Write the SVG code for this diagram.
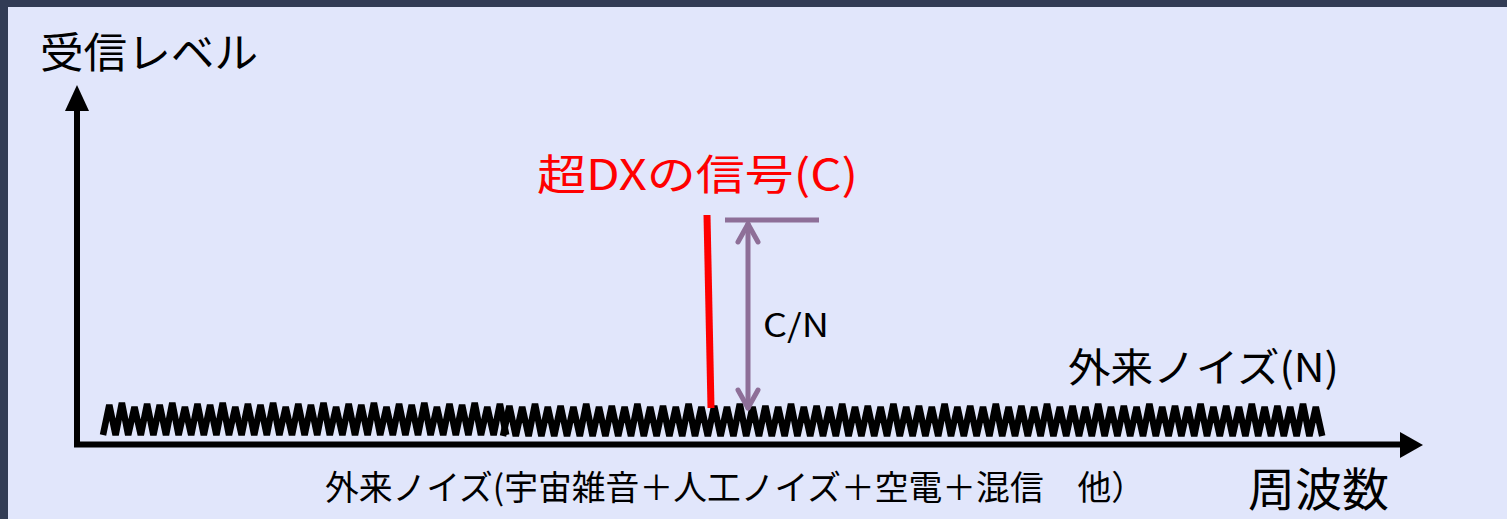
<svg xmlns="http://www.w3.org/2000/svg" width="1507" height="519" viewBox="0 0 1507 519">
<style>
.t{font-family:"Noto Sans CJK JP","Noto Sans",sans-serif;}
.axis{stroke:#000;stroke-width:6;fill:none;}
.noise{stroke:#000;stroke-width:6.5;fill:none;stroke-linejoin:miter;stroke-miterlimit:3;}
.pur{stroke:#8e6f98;stroke-width:5;fill:none;stroke-linecap:round;stroke-linejoin:round;}
</style>
<rect x="0" y="0" width="1507" height="519" fill="#323c55"/>
<rect x="8" y="7" width="1499" height="512" fill="#e1e6fb"/>
<g id="noise">
<path class="noise" d="M103,435 l6.3,-30 6.3,30 6.3,-32 6.3,32 6.3,-28 6.3,28 6.3,-31 6.3,31 6.3,-30 6.3,30 6.3,-32 6.3,32 6.3,-28 6.3,28 6.3,-31 6.3,31 6.3,-30 6.3,30 6.3,-32 6.3,32 6.3,-28 6.3,28 6.3,-31 6.3,31 6.3,-30 6.3,30 6.3,-32 6.3,32 6.3,-28 6.3,28 6.3,-31 6.3,31 6.3,-30 6.3,30 6.3,-32 6.3,32 6.3,-28 6.3,28 6.3,-31 6.3,31 6.3,-30 6.3,30 6.3,-32 6.3,32 6.3,-28 6.3,28 6.3,-31 6.3,31 6.3,-30 6.3,30 6.3,-32 6.3,32 6.3,-28 6.3,28 6.3,-31 6.3,31 6.3,-30 6.3,30 6.3,-32 6.3,32 6.3,-28 6.3,28 6.3,-31 6.3,31"/>
<path class="noise" d="M503,436 l6.4,-30 6.4,30 6.4,-29 6.4,29 6.4,-32 6.4,32 6.4,-29 6.4,29 6.4,-30 6.4,30 6.4,-29 6.4,29 6.4,-32 6.4,32 6.4,-29 6.4,29 6.4,-30 6.4,30 6.4,-29 6.4,29 6.4,-32 6.4,32 6.4,-29 6.4,29 6.4,-30 6.4,30 6.4,-29 6.4,29 6.4,-32 6.4,32 6.4,-29 6.4,29 6.4,-30 6.4,30 6.4,-29 6.4,29 6.4,-32 6.4,32 6.4,-29 6.4,29 6.4,-30 6.4,30 6.4,-29 6.4,29 6.4,-32 6.4,32 6.4,-29 6.4,29 6.4,-30 6.4,30 6.4,-29 6.4,29 6.4,-32 6.4,32 6.4,-29 6.4,29 6.4,-30 6.4,30 6.4,-29 6.4,29 6.4,-32 6.4,32 6.4,-29 6.4,29 6.4,-30 6.4,30 6.4,-29 6.4,29 6.4,-32 6.4,32 6.4,-29 6.4,29 6.4,-30 6.4,30 6.4,-29 6.4,29 6.4,-32 6.4,32 6.4,-29 6.4,29 6.4,-30 6.4,30 6.4,-29 6.4,29 6.4,-32 6.4,32 6.4,-29 6.4,29 6.4,-30 6.4,30 6.4,-29 6.4,29 6.4,-32 6.4,32 6.4,-29 6.4,29 6.4,-30 6.4,30 6.4,-29 6.4,29 6.4,-32 6.4,32 6.4,-29 6.4,29 6.4,-30 6.4,30 6.4,-29 6.4,29 6.4,-32 6.4,32 6.4,-29 6.4,29 6.4,-30 6.4,30 6.4,-29 6.4,29 6.4,-32 6.4,32 6.4,-29 6.4,29 6.4,-30 6.4,30 6.4,-29 6.4,29 6.4,-32 6.4,32 6.4,-29 6.4,29"/>
</g>
<g id="axes">
<line class="axis" x1="77" y1="447" x2="77" y2="105"/>
<polygon points="65,111 77,85 89,111" fill="#000"/>
<line class="axis" x1="74" y1="444.5" x2="1403" y2="444.5"/>
<polygon points="1400,432 1423,445 1400,458" fill="#000"/>
</g>
<g id="signal">
<line x1="707" y1="215" x2="711" y2="408" stroke="#ff0000" stroke-width="7"/>
</g>
<g id="connectors">
<line class="pur" x1="725" y1="220" x2="819" y2="220" style="stroke-linecap:butt"/>
<line class="pur" x1="748" y1="224" x2="748" y2="408"/>
<polyline class="pur" points="738,242 748,224 758,242"/>
<polyline class="pur" points="738,390 748,408 758,390"/>
</g>
<g id="labels">
<text class="t" x="40" y="68" font-size="42" textLength="218" lengthAdjust="spacingAndGlyphs">受信レベル</text>
<text class="t" x="537" y="190" font-size="42" fill="#ff0000" textLength="321" lengthAdjust="spacingAndGlyphs">超DXの信号(C)</text>
<text class="t" x="763" y="337" font-size="32" textLength="66" lengthAdjust="spacingAndGlyphs">C/N</text>
<text class="t" x="1068" y="382" font-size="40" textLength="271" lengthAdjust="spacingAndGlyphs">外来ノイズ(N)</text>
<text class="t" x="325" y="500" font-size="34" textLength="820" lengthAdjust="spacingAndGlyphs">外来ノイズ(宇宙雑音＋人工ノイズ＋空電＋混信　他）</text>
<text class="t" x="1248" y="506" font-size="46" textLength="141" lengthAdjust="spacingAndGlyphs">周波数</text>
</g>
</svg>
